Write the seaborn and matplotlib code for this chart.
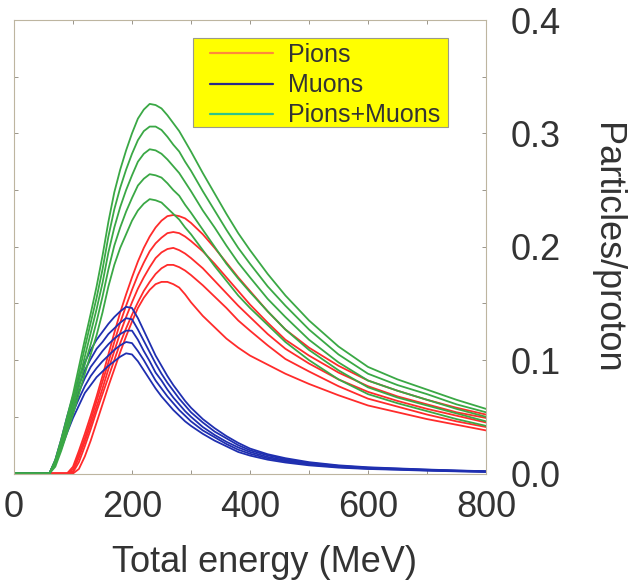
import numpy as np
import pandas as pd
import matplotlib
matplotlib.use("Agg")
import matplotlib.pyplot as plt
from matplotlib.lines import Line2D
from matplotlib.patches import Rectangle
import seaborn as sns

# Total energy grid (MeV)
energy = [0, 40, 60, 70, 80, 90, 100, 110, 120, 130, 140, 150, 160, 170, 180, 190, 200,
          210, 220, 230, 240, 250, 260, 270, 280, 290, 300, 320, 340, 360, 380, 400,
          430, 460, 500, 550, 600, 650, 700, 750, 800]

# Pions per proton, one curve per run
pions_1 = [0, 0, 0, 0, 0, 0, 0.006, 0.020, 0.035, 0.051, 0.068, 0.086, 0.105, 0.124, 0.142, 0.158, 0.173,
           0.187, 0.199, 0.209, 0.217, 0.223, 0.227, 0.228, 0.227, 0.225, 0.221, 0.211, 0.199, 0.186, 0.173, 0.161,
           0.143, 0.127, 0.111, 0.095, 0.082, 0.073, 0.065, 0.058, 0.052]
pions_2 = [0, 0, 0, 0, 0, 0, 0.004, 0.017, 0.031, 0.047, 0.064, 0.081, 0.098, 0.116, 0.133, 0.148, 0.162,
           0.175, 0.186, 0.196, 0.203, 0.208, 0.212, 0.213, 0.212, 0.209, 0.205, 0.196, 0.185, 0.173, 0.161, 0.149,
           0.133, 0.118, 0.104, 0.089, 0.077, 0.068, 0.061, 0.054, 0.049]
pions_3 = [0, 0, 0, 0, 0, 0, 0.002, 0.014, 0.028, 0.043, 0.059, 0.075, 0.092, 0.108, 0.124, 0.138, 0.151,
           0.163, 0.173, 0.182, 0.190, 0.195, 0.198, 0.199, 0.197, 0.194, 0.190, 0.181, 0.170, 0.159, 0.148, 0.138,
           0.123, 0.110, 0.097, 0.083, 0.072, 0.064, 0.057, 0.051, 0.045]
pions_4 = [0, 0, 0, 0, 0, 0, 0.001, 0.010, 0.024, 0.039, 0.055, 0.070, 0.085, 0.100, 0.115, 0.128, 0.140,
           0.151, 0.161, 0.169, 0.176, 0.181, 0.184, 0.184, 0.182, 0.179, 0.175, 0.166, 0.156, 0.146, 0.135, 0.126,
           0.113, 0.101, 0.090, 0.077, 0.066, 0.059, 0.052, 0.046, 0.041]
pions_5 = [0, 0, 0, 0, 0, 0, 0, 0.004, 0.015, 0.029, 0.045, 0.061, 0.077, 0.092, 0.107, 0.121, 0.134,
           0.146, 0.155, 0.162, 0.167, 0.169, 0.169, 0.167, 0.164, 0.158, 0.151, 0.139, 0.129, 0.119, 0.111, 0.104,
           0.096, 0.088, 0.079, 0.069, 0.060, 0.054, 0.048, 0.043, 0.038]

# Muons per proton
muons_1 = [0, 0, 0, 0.012, 0.030, 0.050, 0.068, 0.084, 0.098, 0.109, 0.118, 0.125, 0.132, 0.138, 0.143, 0.147, 0.146,
           0.137, 0.126, 0.115, 0.104, 0.095, 0.086, 0.078, 0.071, 0.064, 0.058, 0.048, 0.040, 0.033, 0.027, 0.022,
           0.017, 0.0135, 0.010, 0.0072, 0.0055, 0.0045, 0.0035, 0.0027, 0.002]
muons_2 = [0, 0, 0, 0.011, 0.028, 0.047, 0.063, 0.078, 0.091, 0.101, 0.110, 0.116, 0.123, 0.128, 0.133, 0.137, 0.136,
           0.127, 0.117, 0.107, 0.097, 0.088, 0.080, 0.073, 0.066, 0.060, 0.054, 0.045, 0.037, 0.031, 0.025, 0.0205,
           0.016, 0.0126, 0.0093, 0.0067, 0.0051, 0.0042, 0.0033, 0.0025, 0.0019]
muons_3 = [0, 0, 0, 0.010, 0.026, 0.043, 0.058, 0.072, 0.084, 0.094, 0.101, 0.108, 0.114, 0.119, 0.123, 0.126, 0.126,
           0.118, 0.108, 0.099, 0.089, 0.082, 0.074, 0.067, 0.061, 0.055, 0.050, 0.041, 0.034, 0.028, 0.023, 0.019,
           0.0146, 0.0116, 0.0086, 0.0062, 0.0047, 0.0039, 0.003, 0.0023, 0.0017]
muons_4 = [0, 0, 0, 0.009, 0.024, 0.040, 0.054, 0.066, 0.077, 0.086, 0.093, 0.099, 0.104, 0.109, 0.113, 0.116, 0.115,
           0.108, 0.100, 0.091, 0.082, 0.075, 0.068, 0.062, 0.056, 0.051, 0.046, 0.038, 0.032, 0.026, 0.021, 0.0174,
           0.0134, 0.0107, 0.0079, 0.0057, 0.0043, 0.0036, 0.0028, 0.0021, 0.0016]
muons_5 = [0, 0, 0, 0.009, 0.022, 0.036, 0.049, 0.060, 0.071, 0.078, 0.085, 0.090, 0.095, 0.099, 0.103, 0.106, 0.105,
           0.099, 0.091, 0.083, 0.075, 0.068, 0.062, 0.056, 0.051, 0.046, 0.042, 0.035, 0.029, 0.024, 0.019, 0.0158,
           0.0122, 0.0097, 0.0072, 0.0052, 0.004, 0.0033, 0.0025, 0.0019, 0.0014]

# Pions + muons per proton
total_1 = [0, 0, 0, 0.012, 0.030, 0.050, 0.070, 0.094, 0.118, 0.141, 0.165, 0.192, 0.222, 0.248, 0.268, 0.285, 0.300,
           0.313, 0.321, 0.326, 0.325, 0.322, 0.316, 0.309, 0.302, 0.293, 0.284, 0.265, 0.247, 0.229, 0.212, 0.197,
           0.176, 0.157, 0.135, 0.112, 0.094, 0.083, 0.074, 0.065, 0.057]
total_2 = [0, 0, 0, 0.011, 0.028, 0.047, 0.066, 0.088, 0.111, 0.133, 0.155, 0.180, 0.209, 0.233, 0.252, 0.268, 0.282,
           0.294, 0.302, 0.306, 0.306, 0.303, 0.297, 0.290, 0.284, 0.275, 0.267, 0.249, 0.232, 0.215, 0.199, 0.185,
           0.165, 0.148, 0.127, 0.105, 0.088, 0.078, 0.070, 0.061, 0.054]
total_3 = [0, 0, 0, 0.010, 0.026, 0.044, 0.061, 0.082, 0.103, 0.124, 0.145, 0.168, 0.195, 0.217, 0.235, 0.250, 0.263,
           0.275, 0.282, 0.286, 0.285, 0.282, 0.277, 0.271, 0.265, 0.257, 0.249, 0.232, 0.217, 0.201, 0.186, 0.173,
           0.154, 0.138, 0.118, 0.098, 0.082, 0.073, 0.065, 0.057, 0.050]
total_4 = [0, 0, 0, 0.008, 0.023, 0.040, 0.057, 0.076, 0.096, 0.114, 0.134, 0.156, 0.180, 0.201, 0.217, 0.231, 0.243,
           0.254, 0.260, 0.264, 0.263, 0.261, 0.256, 0.250, 0.245, 0.237, 0.230, 0.215, 0.200, 0.185, 0.172, 0.160,
           0.143, 0.127, 0.109, 0.091, 0.076, 0.067, 0.060, 0.053, 0.046]
total_5 = [0, 0, 0, 0.006, 0.020, 0.036, 0.052, 0.070, 0.088, 0.105, 0.122, 0.142, 0.165, 0.184, 0.199, 0.211, 0.223,
           0.232, 0.238, 0.242, 0.241, 0.239, 0.234, 0.229, 0.224, 0.217, 0.211, 0.197, 0.183, 0.170, 0.157, 0.146,
           0.131, 0.116, 0.100, 0.083, 0.070, 0.062, 0.055, 0.048, 0.042]

species_names = ["Pions", "Muons", "Pions+Muons"]
x_ticks = [0, 200, 400, 600, 800]
y_ticks = [0.0, 0.1, 0.2, 0.3, 0.4]

series = {
    "Pions": [pions_1, pions_2, pions_3, pions_4, pions_5],
    "Muons": [muons_1, muons_2, muons_3, muons_4, muons_5],
    "Pions+Muons": [total_1, total_2, total_3, total_4, total_5],
}

rows = []
for sp, curves in series.items():
    for run, vals in enumerate(curves, start=1):
        for e, v in zip(energy, vals):
            rows.append({"energy": e, "value": v, "species": sp, "run": run})
df = pd.DataFrame(rows)

line_colors = {"Pions": "#ff2b2b", "Muons": "#1f2fb0", "Pions+Muons": "#3aa845"}
legend_colors = {"Pions": "#ff8a3a", "Muons": "#2a2a8a", "Pions+Muons": "#2ec48a"}

sns.set_theme(style="white")
plt.rcParams["font.family"] = ["Liberation Sans", "DejaVu Sans"]

W, H = 633, 580
fig = plt.figure(figsize=(W / 100, H / 100), dpi=100)
ax = fig.add_axes([14 / W, 1 - 473.5 / H, 472 / W, 453.5 / H])

for sp in species_names:
    sns.lineplot(data=df[df["species"] == sp], x="energy", y="value", units="run",
                 estimator=None, color=line_colors[sp], lw=1.3, ax=ax, legend=False,
                 sort=False)

ax.set_xlim(0, 800)
ax.set_ylim(0, 0.4)
ax.set_xlabel("")
ax.set_ylabel("")

spine_color = "#bdb5a0"
for s in ax.spines.values():
    s.set_visible(True)
    s.set_color(spine_color)
    s.set_linewidth(0.8)

ax.set_xticks(x_ticks)
ax.set_xticklabels([str(t) for t in x_ticks])
ax.set_xticks(np.arange(0, 801, 100), minor=True)
ax.set_yticks(y_ticks)
ax.set_yticklabels([f"{t:.1f}" for t in y_ticks])
ax.set_yticks(np.arange(0, 0.401, 0.05), minor=True)

ax.yaxis.tick_right()
ax.tick_params(axis="both", which="both", direction="in", color="#8a8578",
               length=3, width=0.6, top=True, bottom=True, left=True, right=True)
ax.tick_params(axis="x", which="major", labelsize=26, pad=12, labelcolor="#333333")
ax.tick_params(axis="y", which="major", labelsize=26, pad=18, labelcolor="#333333",
               labelleft=False, labelright=True)

fig.text(265 / W, 1 - 572 / H, "Total energy (MeV)", ha="center", va="baseline",
         fontsize=26, color="#333333")
fig.text(606 / W, 1 - 248 / H, "Particles/proton", ha="center", va="center",
         rotation=270, fontsize=26, color="#333333")

# Yellow key box behind the legend entries
ax.add_patch(Rectangle((193 / W, 1 - 127 / H), 255 / W, 89 / H,
                       transform=fig.transFigure, facecolor="#ffff00",
                       edgecolor="#9a9a8a", linewidth=0.8, zorder=4, clip_on=False))
handles = [Line2D([0], [0], color=legend_colors[n], lw=1.6) for n in species_names]
leg = ax.legend(handles, species_names, loc="upper left",
                bbox_to_anchor=(210 / W, 1 - 43 / H), bbox_transform=fig.transFigure,
                fontsize=18, handlelength=2.5, handletextpad=0.6, labelspacing=0.25,
                borderpad=0, borderaxespad=0, frameon=False)
leg.set_zorder(6)
for t in leg.get_texts():
    t.set_color("#333333")

fig.savefig("out.png", dpi=100)
